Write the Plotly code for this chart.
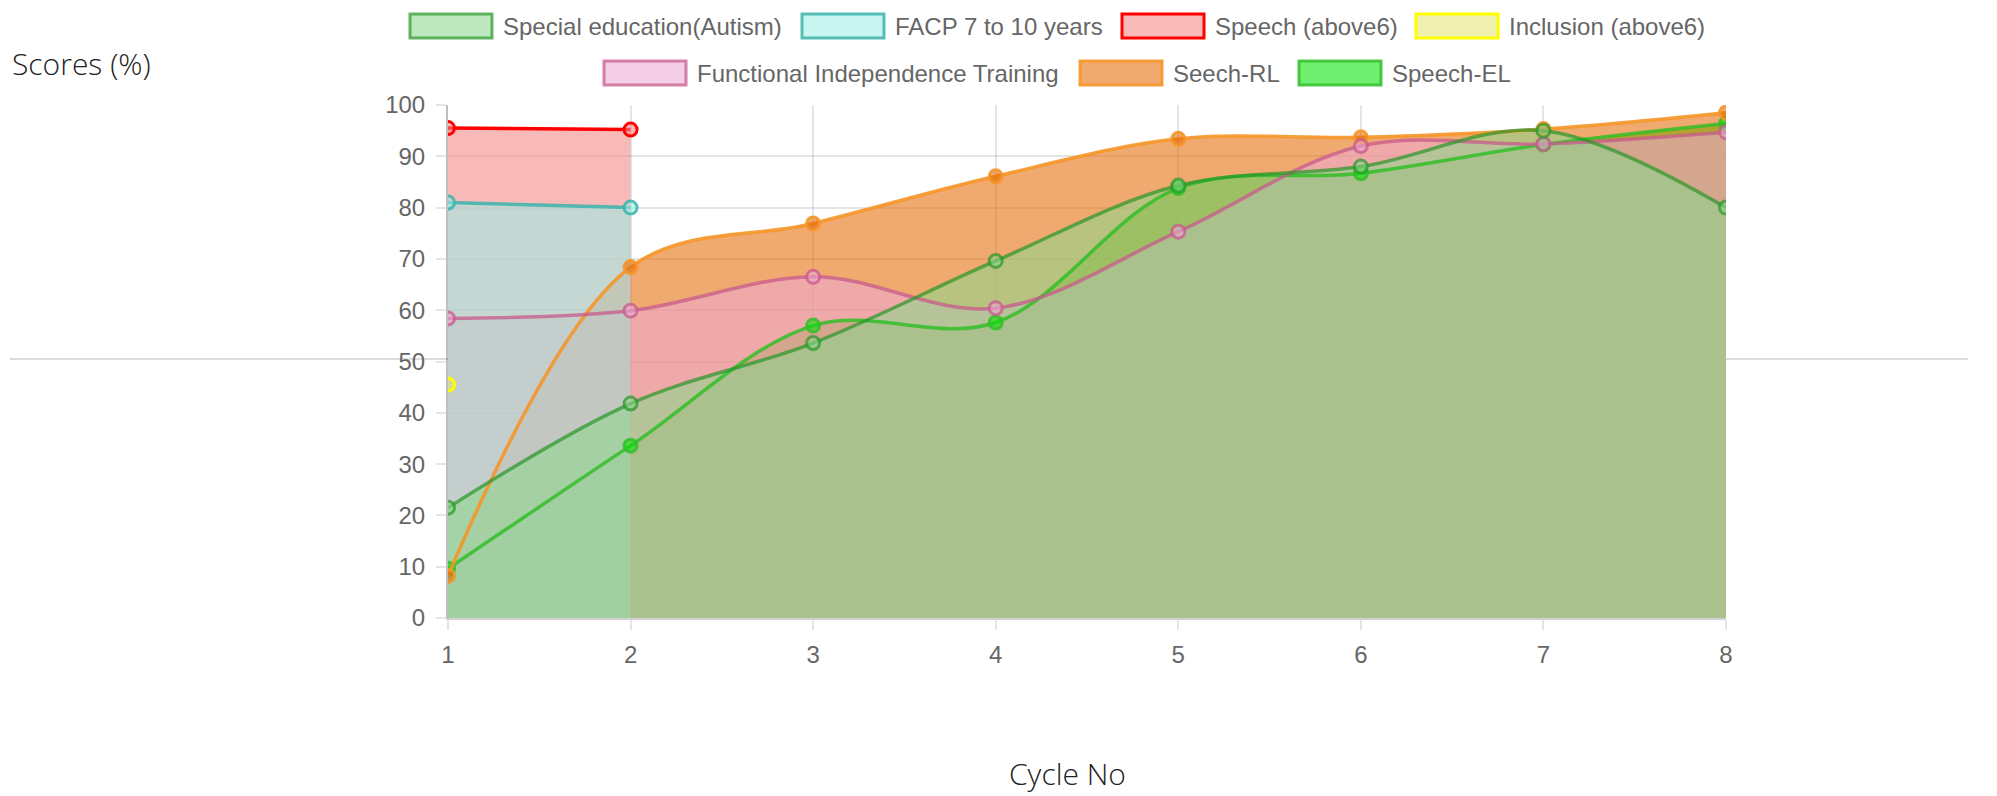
import plotly.graph_objects as go

# ---------------- data ----------------
cycles = [1, 2, 3, 4, 5, 6, 7, 8]
tick_labels = ["1", "2", "3", "4", "5", "6", "7", "8"]
y_ticks = [0, 10, 20, 30, 40, 50, 60, 70, 80, 90, 100]

series_names = [
    "Special education(Autism)",
    "FACP 7 to 10 years",
    "Speech (above6)",
    "Inclusion (above6)",
    "Functional Independence Training",
    "Seech-RL",
    "Speech-EL",
]
special_ed = [21.5, 41.8, 53.6, 69.6, 84.3, 88.0, 95.0, 80.0]
facp = [81.0, 80.0, None, None, None, None, None, None]
speech_above6 = [95.5, 95.2, None, None, None, None, None, None]
inclusion = [45.5, None, None, None, None, None, None, None]
functional = [58.4, 59.9, 66.5, 60.4, 75.3, 92.0, 92.4, 94.7]
seech_rl = [8.2, 68.4, 76.9, 86.1, 93.4, 93.7, 95.3, 98.5]
speech_el = [9.6, 33.6, 57.0, 57.6, 83.8, 86.7, 92.3, 96.4]

values = [special_ed, facp, speech_above6, inclusion, functional, seech_rl, speech_el]

fill_colors = [
    "rgba(141,214,141,0.57)",
    "rgba(158,237,228,0.57)",
    "rgba(242,132,132,0.57)",
    "rgba(228,228,116,0.57)",
    "rgba(235,169,211,0.57)",
    "rgba(228,106,1,0.57)",
    "rgba(4,225,4,0.57)",
]
line_colors = [
    "rgba(40,150,40,0.7)",
    "rgba(60,180,170,0.85)",
    "rgba(255,0,0,1)",
    "rgba(255,255,0,1)",
    "rgba(200,90,140,0.75)",
    "rgba(245,150,40,0.9)",
    "rgba(50,190,40,0.85)",
]

# ---------------- geometry ----------------
W, H = 1997, 796
ML, MR, MT, MB = 448, 271, 105, 178
PW = W - ML - MR
PH = H - MT - MB


def px(x):
    return (x - ML) / PW


def py(y):
    return (H - MB - y) / PH


SMOOTH = 1.0
fig = go.Figure()

# fills first (Chart.js: dataset 0 on top -> add in reverse order)
for i in reversed(range(len(series_names))):
    fig.add_trace(go.Scatter(
        x=cycles, y=values[i], name=series_names[i],
        mode="lines",
        line=dict(color="rgba(0,0,0,0)", width=0, shape="spline", smoothing=SMOOTH),
        fill="tozeroy", fillcolor=fill_colors[i],
        showlegend=False, hoverinfo="skip",
    ))

# then lines and points on top
for i in reversed(range(len(series_names))):
    fig.add_trace(go.Scatter(
        x=cycles, y=values[i], name=series_names[i],
        mode="lines+markers",
        line=dict(color=line_colors[i], width=3.5, shape="spline", smoothing=SMOOTH),
        marker=dict(symbol="circle", size=13, color=fill_colors[i],
                    line=dict(color=line_colors[i], width=3)),
        showlegend=False,
    ))

shapes = []
annotations = []

# custom Chart.js-like legend
legend_rows = [[0, 1, 2, 3], [4, 5, 6]]
legend_box_x = [[410, 802, 1122, 1416], [604, 1080, 1299]]
legend_row_y = [26, 73]
for r, row in enumerate(legend_rows):
    for k, idx in enumerate(row):
        bx = legend_box_x[r][k]
        cy = legend_row_y[r]
        shapes.append(dict(
            type="rect", xref="paper", yref="paper",
            x0=px(bx), x1=px(bx + 82), y0=py(cy - 12), y1=py(cy + 12),
            fillcolor=fill_colors[idx],
            line=dict(color=line_colors[idx], width=3),
        ))
        annotations.append(dict(
            xref="paper", yref="paper", x=px(bx + 91), y=py(cy),
            xanchor="left", yanchor="middle", showarrow=False,
            text=series_names[idx],
            font=dict(family="Helvetica Neue, Helvetica, Arial, Liberation Sans, sans-serif",
                      size=24, color="#666666"),
        ))

# page horizontal rule (visible outside the plot)
for x0, x1 in [(10, ML), (ML + PW, 1968)]:
    shapes.append(dict(
        type="line", xref="paper", yref="paper",
        x0=px(x0), x1=px(x1), y0=py(359), y1=py(359),
        line=dict(color="#dcdcdc", width=2), layer="below",
    ))

annotations.append(dict(
    xref="paper", yref="paper", x=px(10), y=py(64),
    xanchor="left", yanchor="middle", showarrow=False,
    text="Scores (%)",
    font=dict(family="Open Sans, Noto Sans, sans-serif", size=30, color="#222222", weight=300),
))
annotations.append(dict(
    xref="paper", yref="paper", x=px(1067), y=py(773),
    xanchor="center", yanchor="middle", showarrow=False,
    text="Cycle No",
    font=dict(family="Open Sans, Noto Sans, sans-serif", size=30, color="#222222", weight=300),
))

tick_font = dict(family="Helvetica Neue, Helvetica, Arial, Liberation Sans, sans-serif",
                 size=24, color="#666666")

fig.update_layout(
    width=W, height=H,
    margin=dict(l=ML, r=MR, t=MT, b=MB, pad=0),
    paper_bgcolor="white",
    plot_bgcolor="white",
    showlegend=False,
    shapes=shapes,
    annotations=annotations,
    xaxis=dict(
        range=[1, 8], tickvals=cycles, ticktext=tick_labels,
        showgrid=True, gridcolor="rgba(0,0,0,0.1)", gridwidth=1.5,
        zeroline=False, showline=True, linecolor="rgba(0,0,0,0.18)", linewidth=2,
        ticks="outside", ticklen=10, tickwidth=1.5, tickcolor="rgba(0,0,0,0.1)",
        tickfont=tick_font, ticklabelstandoff=4,
    ),
    yaxis=dict(
        range=[0, 100], tickvals=y_ticks, ticktext=[str(v) for v in y_ticks],
        showgrid=True, gridcolor="rgba(0,0,0,0.1)", gridwidth=1.5,
        zeroline=False, showline=True, linecolor="rgba(0,0,0,0.25)", linewidth=2,
        ticks="outside", ticklen=10, tickwidth=1.5, tickcolor="rgba(0,0,0,0.1)",
        tickfont=tick_font, ticklabelstandoff=6,
    ),
)

fig.write_html(
    "out.html",
    config={"displayModeBar": False},
    post_script="document.body.style.margin='0';document.body.style.overflow='hidden';",
)
